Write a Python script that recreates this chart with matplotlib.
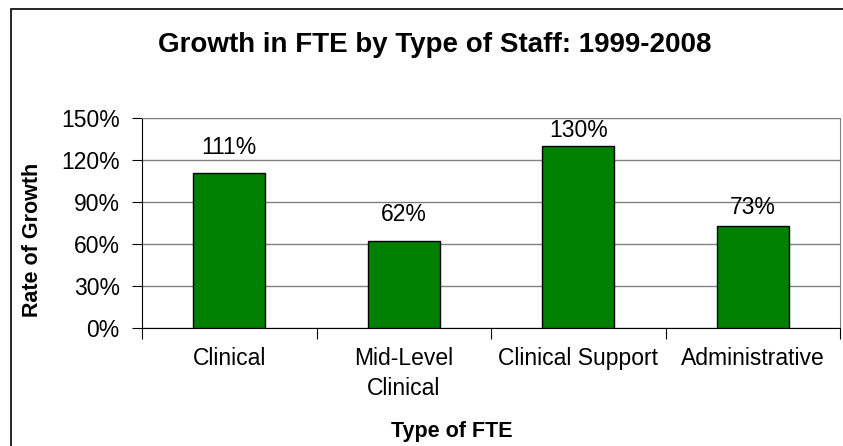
import matplotlib.pyplot as plt
from matplotlib.patches import Rectangle
from matplotlib.ticker import FixedLocator, FuncFormatter
plt.rcParams["font.family"] = "Liberation Sans"

categories = ['Clinical', 'Mid-Level\nClinical', 'Clinical Support', 'Administrative']
growth = [111, 62, 130, 73]
y_ticks = [0, 30, 60, 90, 120, 150]

W, H = 843, 446
fig = plt.figure(figsize=(W / 100, H / 100), dpi=100)
# outer chart border (bottom and right run off the image)
fig.patches.append(Rectangle((11 / W, -0.1), 1.2, 1.1 - 9 / H, transform=fig.transFigure,
                             fill=False, edgecolor='black', linewidth=1.2))

ax = fig.add_axes([142 / W, 1 - 328 / H, (840 - 142) / W, (328 - 118) / H])
x = list(range(len(categories)))
ax.bar(x, growth, width=0.41, color='#008000', edgecolor='black', linewidth=1, zorder=3)

# label gap above each bar, in points
label_gap = [18, 19.5, 11.5, 13]
for xi, v, g in zip(x, growth, label_gap):
    ax.annotate(f'{v}%', (xi, v), xytext=(0, g), textcoords='offset points',
                ha='center', va='center', fontsize=16.5)

ax.set_xlim(-0.5, len(categories) - 0.5)
ax.set_ylim(0, 150)
ax.set_yticks(y_ticks)
ax.yaxis.set_major_formatter(FuncFormatter(lambda v, p: f'{int(v)}%'))
ax.tick_params(axis='y', length=7, labelsize=16.5, pad=9)
ax.grid(axis='y', color='#808080', linewidth=1, zorder=0)

ax.xaxis.set_major_locator(FixedLocator([i - 0.5 for i in range(len(categories) + 1)]))
ax.xaxis.set_minor_locator(FixedLocator(x))
ax.set_xticklabels([], minor=False)
ax.set_xticklabels(categories, minor=True, fontsize=16.5, va='top', linespacing=1.35)
ax.tick_params(axis='x', which='major', length=8, direction='out')
ax.tick_params(axis='x', which='minor', length=0, pad=14)

for s in ['top', 'right']:
    ax.spines[s].set_color('#808080')

fig.text(33 / W, 1 - 240 / H, 'Rate of Growth', rotation=90, ha='center', va='center',
         fontsize=15.5, fontweight='bold')
fig.text(452 / W, 1 - 431 / H, 'Type of FTE', ha='center', va='center',
         fontsize=15.5, fontweight='bold')
fig.text(435 / W, 1 - 45 / H, 'Growth in FTE by Type of Staff: 1999-2008', ha='center', va='center',
         fontsize=20, fontweight='bold')

fig.savefig('out.png', dpi=100)
